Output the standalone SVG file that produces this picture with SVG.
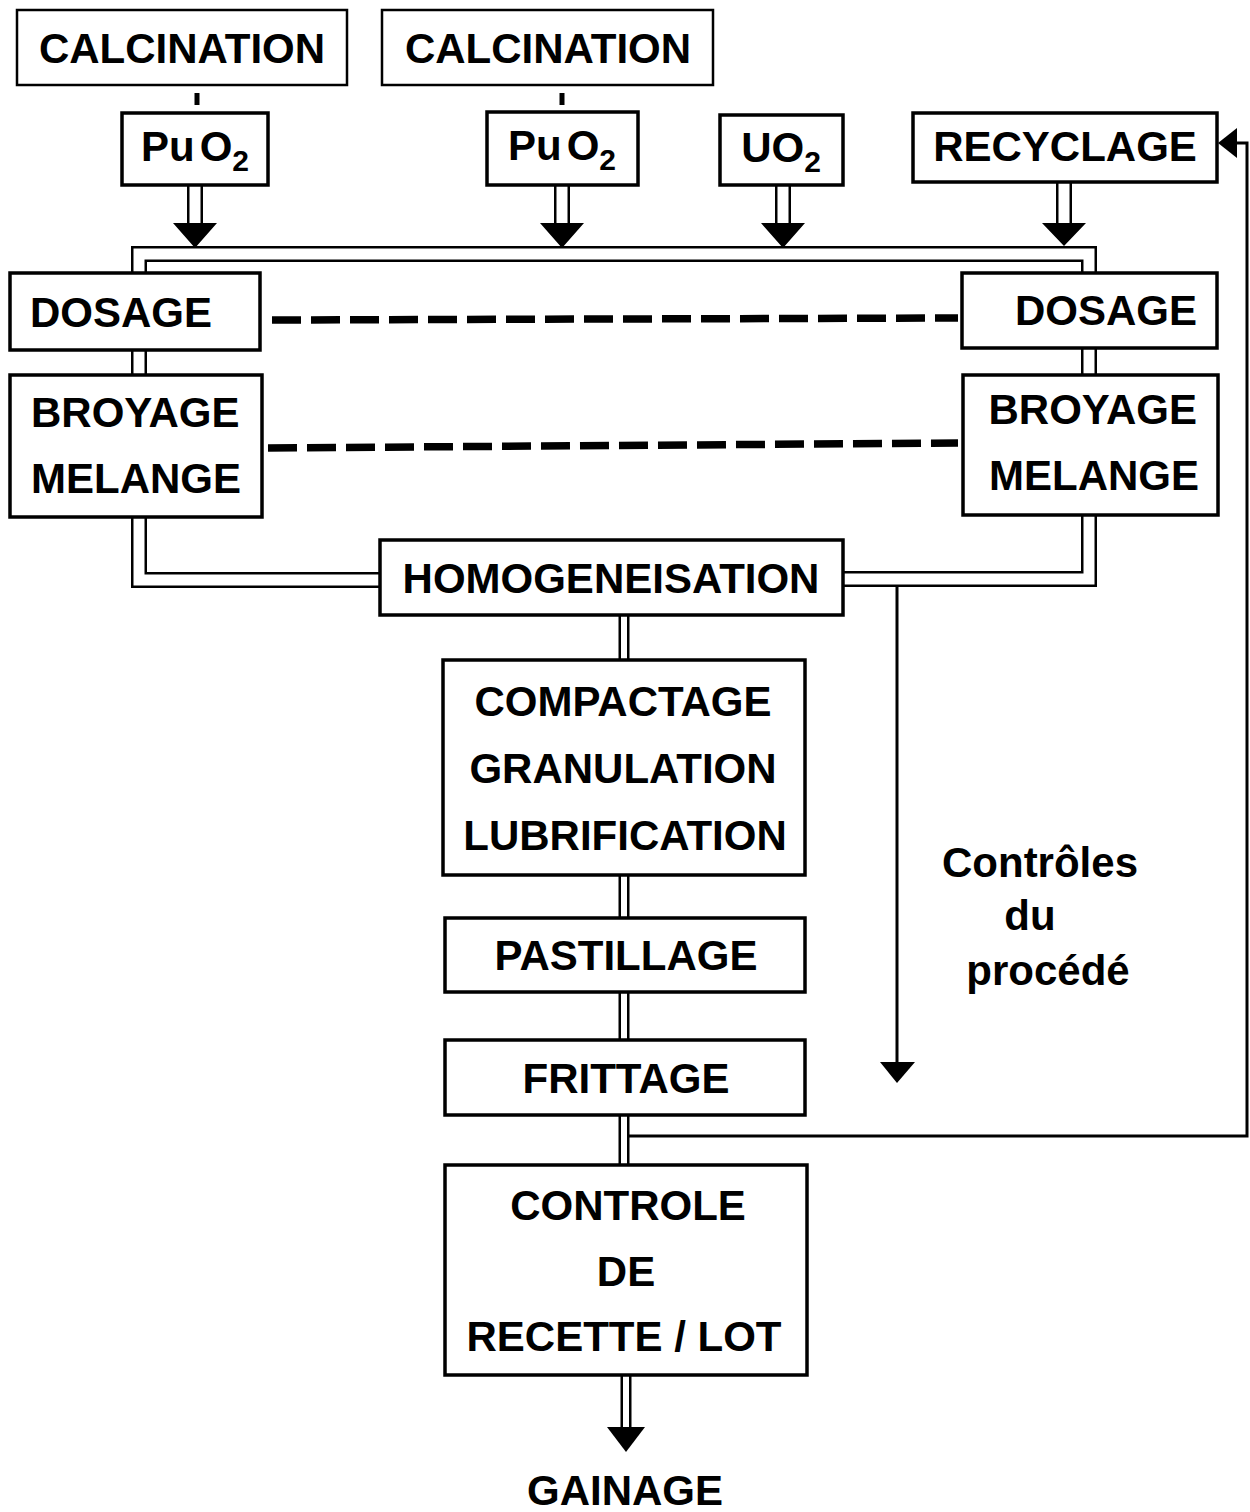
<svg xmlns="http://www.w3.org/2000/svg" width="1250" height="1512" viewBox="0 0 1250 1512">
<style>
.box{fill:#fff;stroke:#000;stroke-width:3.5}
.thin{fill:#fff;stroke:#000;stroke-width:2.5}
.t{font-family:"Liberation Sans",Arial,sans-serif;font-weight:bold;font-size:42px;fill:#000}
.c{text-anchor:middle}
.dbo{fill:none;stroke:#000;stroke-width:16;stroke-linejoin:miter}
.dbi{fill:none;stroke:#fff;stroke-width:11;stroke-linejoin:miter}
.sbo{fill:none;stroke:#000;stroke-width:11}
.sbi{fill:none;stroke:#fff;stroke-width:6}
.dash{fill:none;stroke:#000;stroke-width:7.5;stroke-dasharray:29 10}
.ln{fill:none;stroke:#000;stroke-width:3}
.tick{fill:none;stroke:#000;stroke-width:5}
</style>
<rect width="1250" height="1512" fill="#fff"/>
<g id="connectors">
  <line x1="197" y1="93" x2="197" y2="105" class="tick"/>
  <line x1="562" y1="93" x2="562" y2="105" class="tick"/>
  <path class="dbo" d="M139 275 V254 H1089 V275"/>
  <path class="dbi" d="M139 277 V254 H1089 V277"/>
  <path class="dbo" d="M195 185 V226 M562 185 V226 M783 185 V226 M1064 182 V226"/>
  <path class="dbi" d="M195 183 V228 M562 183 V228 M783 183 V228 M1064 180 V228"/>
  <path d="M173 223 L217 223 L195 248 Z M540 223 L584 223 L562 248 Z M761 223 L805 223 L783 248 Z M1042 223 L1086 223 L1064 246 Z" fill="#000"/>
  <path class="dbo" d="M139 348 V377"/>
  <path class="dbi" d="M139 346 V379"/>
  <path class="dbo" d="M139 515 V580 H382"/>
  <path class="dbi" d="M139 513 V580 H384"/>
  <path class="dbo" d="M1089 346 V377"/>
  <path class="dbi" d="M1089 344 V379"/>
  <path class="dbo" d="M1089 513 V579 H841"/>
  <path class="dbi" d="M1089 511 V579 H839"/>
  <path class="dash" d="M272 320 L958 318"/>
  <path class="dash" d="M268 448 L958 443"/>
  <path class="sbo" d="M624 615 V662 M624 875 V920 M624 992 V1042 M624 1115 V1167 M626 1375 V1430"/>
  <path class="sbi" d="M624 613 V664 M624 873 V922 M624 990 V1044 M624 1113 V1169 M626 1373 V1432"/>
  <path d="M607 1427 L645 1427 L626 1452 Z" fill="#000"/>
  <path class="ln" d="M897 587 V1066"/>
  <path d="M880 1062 L915 1062 L897 1083 Z" fill="#000"/>
  <path class="ln" d="M629 1136 H1247 V143 H1232"/>
  <path d="M1218 143 L1237 128 L1237 158 Z" fill="#000"/>
</g>
<g id="calc1"><rect class="thin" x="17" y="10" width="330" height="75"/><text class="t c" x="182" y="63">CALCINATION</text></g>
<g id="calc2"><rect class="thin" x="382" y="10" width="331" height="75"/><text class="t c" x="548" y="63">CALCINATION</text></g>
<g id="puo2a"><rect class="box" x="122" y="113" width="146" height="72"/><text class="t c" x="195" y="161" font-size="39">Pu<tspan dx="5">O</tspan><tspan font-size="30" dy="10">2</tspan></text></g>
<g id="puo2b"><rect class="box" x="487" y="112" width="151" height="73"/><text class="t c" x="562" y="160" font-size="39">Pu<tspan dx="5">O</tspan><tspan font-size="30" dy="10">2</tspan></text></g>
<g id="uo2"><rect class="box" x="720" y="115" width="123" height="70"/><text class="t c" x="781" y="162" font-size="39">UO<tspan font-size="30" dy="10">2</tspan></text></g>
<g id="recyclage"><rect class="box" x="913" y="113" width="304" height="69"/><text class="t c" x="1065" y="161">RECYCLAGE</text></g>
<g id="dosage-l"><rect class="box" x="10" y="273" width="250" height="77"/><text class="t" x="30" y="327">DOSAGE</text></g>
<g id="broyage-l"><rect class="box" x="10" y="375" width="252" height="142"/><text class="t" x="31" y="427">BROYAGE</text><text class="t" x="31" y="493">MELANGE</text></g>
<g id="dosage-r"><rect class="box" x="962" y="273" width="255" height="75"/><text class="t" x="1197" y="325" text-anchor="end">DOSAGE</text></g>
<g id="broyage-r"><rect class="box" x="963" y="375" width="255" height="140"/><text class="t" x="1197" y="424" text-anchor="end">BROYAGE</text><text class="t" x="1199" y="490" text-anchor="end">MELANGE</text></g>
<g id="homog"><rect class="box" x="380" y="540" width="463" height="75"/><text class="t c" x="611" y="593">HOMOGENEISATION</text></g>
<g id="compactage"><rect class="box" x="443" y="660" width="362" height="215"/><text class="t c" x="623" y="716">COMPACTAGE</text><text class="t c" x="623" y="783">GRANULATION</text><text class="t c" x="625" y="850">LUBRIFICATION</text></g>
<g id="pastillage"><rect class="box" x="445" y="918" width="360" height="74"/><text class="t c" x="626" y="970">PASTILLAGE</text></g>
<g id="frittage"><rect class="box" x="445" y="1040" width="360" height="75"/><text class="t c" x="626" y="1093">FRITTAGE</text></g>
<g id="controle"><rect class="box" x="445" y="1165" width="362" height="210"/><text class="t c" x="628" y="1220">CONTROLE</text><text class="t c" x="626" y="1286">DE</text><text class="t c" x="624" y="1351">RECETTE / LOT</text></g>
<g id="gainage"><text class="t c" x="625" y="1505">GAINAGE</text></g>
<g id="controles-label"><text class="t c" x="1040" y="877" font-size="40">Contrôles</text><text class="t c" x="1030" y="930" font-size="40">du</text><text class="t c" x="1048" y="985" font-size="40">procédé</text></g>
</svg>
